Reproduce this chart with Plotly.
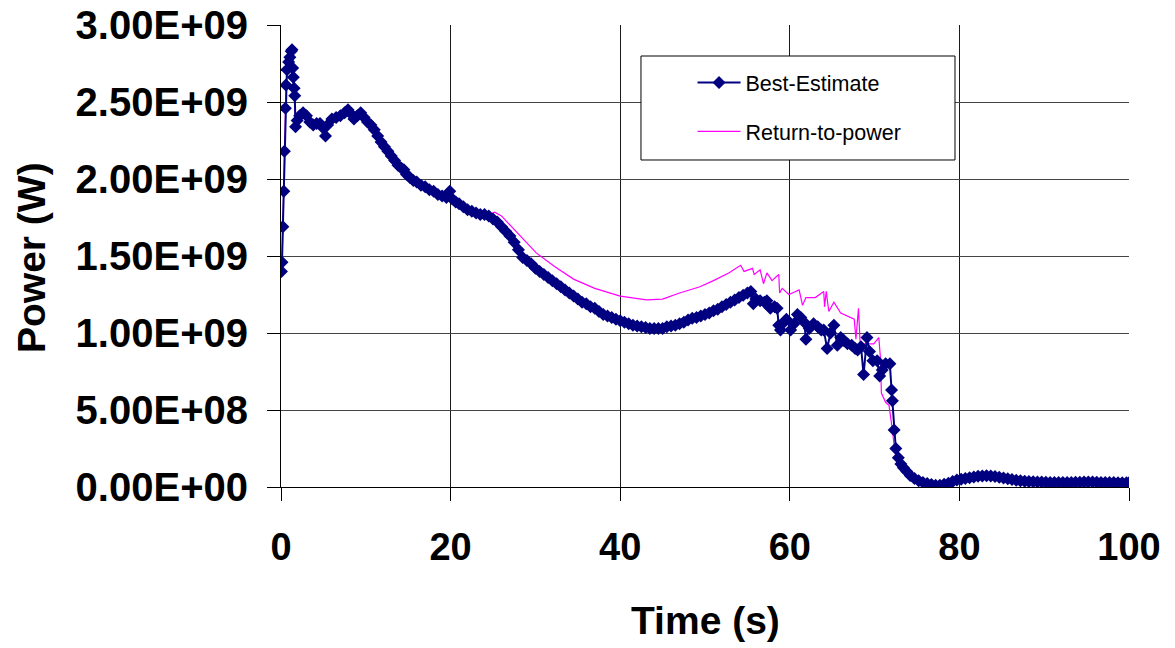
import plotly.graph_objects as go

# ---------------- data ----------------
# Best-Estimate: time (s) and power (GW)
be_time = [0.05, 0.12, 0.22, 0.33, 0.40, 0.52, 0.58, 0.70, 0.90, 1.05, 1.20, 1.30, 1.38, 1.45,
           1.55, 1.62, 1.72, 1.90, 2.20, 2.60, 3.00, 3.40, 3.80, 4.20, 4.60, 5.00, 5.25, 5.50,
           6.00, 6.50, 7.00, 7.50, 7.90, 8.30, 8.60, 9.00, 9.40, 9.80, 10.2, 10.6, 11.0, 11.4,
           11.8, 12.2, 12.6, 13.0, 13.4, 13.8, 14.2, 14.5, 14.8, 15.2, 15.6, 16.0, 16.5, 17.0,
           17.5, 18.0, 18.5, 19.0, 19.5, 19.9, 20.2, 20.6, 21.0, 21.5, 22.0, 22.5, 23.0, 23.5,
           24.0, 24.5, 25.0, 25.5, 26.0, 26.5, 27.0, 27.5, 28.0, 28.5, 29.0, 29.5, 30.0, 30.5,
           31.0, 31.5, 32.0, 32.5, 33.0, 33.5, 34.0, 34.5, 35.0, 35.5, 36.0, 36.5, 37.0, 37.5,
           38.0, 38.5, 39.0, 39.5, 40.0, 40.5, 41.0, 41.5, 42.0, 42.5, 43.0, 43.5, 44.0, 44.5,
           45.0, 45.5, 46.0, 46.5, 47.0, 47.5, 48.0, 48.5, 49.0, 49.5, 50.0, 50.5, 51.0, 51.5,
           52.0, 52.5, 53.0, 53.5, 54.0, 54.5, 55.0, 55.4, 55.7, 56.0, 56.5, 57.0, 57.3, 57.7,
           58.2, 58.5, 58.7, 58.9, 59.3, 59.6, 60.1, 60.5, 60.9, 61.3, 61.7, 61.9, 62.3, 62.8,
           63.3, 63.7, 64.0, 64.4, 64.8, 65.2, 65.6, 66.0, 66.4, 66.8, 67.3, 67.7, 68.0, 68.4,
           68.7, 69.1, 69.4, 69.8, 70.3, 70.6, 70.9, 71.3, 71.8, 72.0, 72.1, 72.3, 72.5, 72.8,
           73.1, 73.4, 73.8, 74.2, 74.7, 75.2, 75.7, 76.2, 76.7, 77.2, 77.7, 78.2, 78.7, 79.2,
           79.7, 80.2, 80.7, 81.2, 81.7, 82.2, 82.7, 83.2, 83.7, 84.2, 84.7, 85.2, 85.7, 86.2,
           86.7, 87.2, 87.7, 88.2, 88.7, 89.2, 89.7, 90.2, 90.7, 91.2, 91.7, 92.2, 92.7, 93.2,
           93.7, 94.2, 94.7, 95.2, 95.7, 96.2, 96.7, 97.2, 97.7, 98.2, 98.7, 99.2, 99.7, 100.0]
be_power_gw = [1.40, 1.46, 1.69, 1.92, 2.18, 2.46, 2.61, 2.71, 2.76, 2.79, 2.83, 2.84, 2.72, 2.66,
               2.59, 2.54, 2.34, 2.38, 2.41, 2.43, 2.41, 2.37, 2.35, 2.36, 2.36, 2.33, 2.28, 2.35,
               2.39, 2.40, 2.41, 2.43, 2.45, 2.42, 2.39, 2.41, 2.43, 2.40, 2.37, 2.35, 2.32, 2.28,
               2.24, 2.21, 2.18, 2.15, 2.12, 2.09, 2.07, 2.06, 2.03, 2.01, 1.99, 1.98, 1.96, 1.95,
               1.93, 1.92, 1.90, 1.89, 1.88, 1.92, 1.87, 1.85, 1.84, 1.82, 1.80, 1.79, 1.78, 1.77,
               1.77, 1.76, 1.74, 1.72, 1.69, 1.66, 1.63, 1.59, 1.54, 1.49, 1.47, 1.45, 1.42, 1.40,
               1.38, 1.36, 1.34, 1.32, 1.30, 1.28, 1.26, 1.24, 1.22, 1.20, 1.19, 1.17, 1.16, 1.14,
               1.12, 1.11, 1.10, 1.09, 1.08, 1.07, 1.06, 1.05, 1.045, 1.04, 1.035, 1.03, 1.03, 1.03,
               1.03, 1.04, 1.045, 1.05, 1.06, 1.07, 1.085, 1.095, 1.10, 1.11, 1.12, 1.13, 1.145, 1.155,
               1.17, 1.185, 1.20, 1.215, 1.23, 1.245, 1.26, 1.27, 1.19, 1.22, 1.21, 1.20, 1.21, 1.16,
               1.17, 1.16, 1.05, 1.02, 1.07, 1.09, 1.02, 1.06, 1.12, 1.10, 1.07, 0.96, 1.03, 1.06,
               1.04, 1.02, 1.02, 0.90, 1.00, 1.05, 0.92, 0.97, 0.95, 0.93, 0.92, 0.90, 0.89, 0.91,
               0.73, 0.97, 0.88, 0.82, 0.82, 0.72, 0.76, 0.80, 0.80, 0.63, 0.56, 0.37, 0.25, 0.19,
               0.15, 0.125, 0.10, 0.075, 0.055, 0.04, 0.03, 0.022, 0.016, 0.012, 0.012, 0.018, 0.025, 0.035,
               0.045, 0.05, 0.055, 0.06, 0.065, 0.07, 0.072, 0.073, 0.072, 0.068, 0.063, 0.058, 0.053, 0.048,
               0.044, 0.040, 0.037, 0.035, 0.034, 0.033, 0.032, 0.031, 0.030, 0.030, 0.030, 0.030, 0.030, 0.030,
               0.031, 0.031, 0.032, 0.032, 0.032, 0.031, 0.030, 0.030, 0.029, 0.029, 0.028, 0.028, 0.028, 0.028]

# Return-to-power: time (s) and power (GW)
rtp_time = [0.05, 0.12, 0.22, 0.33, 0.40, 0.52, 0.60, 0.80, 1.00, 1.25, 1.40, 1.55, 1.70, 2.20,
            3.00, 4.00, 5.25, 6.00, 7.90, 8.60, 9.40, 11.0, 13.0, 15.2, 17.0, 19.0, 19.9, 21.0,
            23.0, 24.6, 25.2, 26.0, 27.4, 28.7, 30.1, 32.3, 34.5, 37.0, 40.0, 43.1, 45.0, 47.0,
            49.4, 51.0, 52.8, 54.2, 54.6, 55.6, 55.8, 56.5, 56.9, 57.3, 57.9, 58.7, 58.8, 59.1,
            59.9, 60.3, 61.1, 61.5, 61.9, 63.0, 64.0, 64.1, 64.3, 64.6, 65.2, 66.0, 66.8, 67.6,
            67.8, 68.1, 68.3, 69.9, 70.5, 70.7, 70.8, 71.3, 71.7, 71.9, 72.1, 72.4, 72.8, 73.5,
            74.5, 76.0, 78.0, 80.0, 83.0, 86.0, 90.0, 95.0, 100.0]
rtp_power_gw = [1.40, 1.46, 1.69, 1.92, 2.18, 2.46, 2.62, 2.74, 2.79, 2.84, 2.66, 2.55, 2.35, 2.41,
                2.40, 2.35, 2.29, 2.39, 2.45, 2.39, 2.43, 2.32, 2.15, 2.01, 1.95, 1.89, 1.92, 1.84,
                1.78, 1.77, 1.785, 1.76, 1.68, 1.60, 1.52, 1.43, 1.35, 1.29, 1.24, 1.215, 1.22, 1.26,
                1.30, 1.34, 1.39, 1.44, 1.40, 1.42, 1.38, 1.41, 1.32, 1.39, 1.34, 1.38, 1.26, 1.29,
                1.25, 1.26, 1.28, 1.18, 1.23, 1.23, 1.27, 1.17, 1.27, 1.14, 1.20, 1.13, 1.11, 1.09,
                0.96, 1.16, 0.93, 0.93, 0.97, 0.83, 0.61, 0.55, 0.53, 0.46, 0.37, 0.22, 0.17, 0.12,
                0.06, 0.025, 0.014, 0.05, 0.073, 0.05, 0.033, 0.030, 0.028]

y_tick_values_gw = [0.0, 0.5, 1.0, 1.5, 2.0, 2.5, 3.0]
y_tick_labels = ["0.00E+00", "5.00E+08", "1.00E+09", "1.50E+09", "2.00E+09", "2.50E+09", "3.00E+09"]
x_tick_values = [0, 20, 40, 60, 80, 100]

GW = 1e9
NAVY = "#000080"
MAGENTA = "#FF00FF"
FONT = "Liberation Sans, Arial, sans-serif"

fig = go.Figure()
fig.add_trace(go.Scatter(
    x=rtp_time, y=[v * GW for v in rtp_power_gw], name="Return-to-power",
    mode="lines", line=dict(color=MAGENTA, width=1.2), legendgroup="b", legendrank=2))
fig.add_trace(go.Scatter(
    x=be_time, y=[v * GW for v in be_power_gw], name="Best-Estimate",
    mode="lines+markers", line=dict(color=NAVY, width=2),
    marker=dict(symbol="diamond", size=10, color=NAVY, line=dict(width=0)),
    legendgroup="a", legendrank=1))

fig.update_layout(
    width=1175, height=648, autosize=False,
    margin=dict(l=281, r=46, t=25, b=161),
    paper_bgcolor="white", plot_bgcolor="white",
    showlegend=True,
    legend=dict(x=0.4853, y=0.92, xanchor="left", yanchor="top",
                bgcolor="rgba(0,0,0,0)", borderwidth=0,
                font=dict(family=FONT, size=21.5, color="black"),
                itemwidth=43, tracegroupgap=18, traceorder="grouped"),
    shapes=[dict(type="rect", xref="paper", yref="paper",
                 x0=0.4245, x1=0.7948, y0=0.7078, y1=0.9329,
                 line=dict(color="black", width=1), fillcolor="white", layer="above")],
    annotations=[
        dict(text="Time (s)", xref="paper", yref="paper", x=0.5, y=-0.288,
             xanchor="center", yanchor="middle", showarrow=False,
             font=dict(family=FONT, size=39, color="black", weight="bold")),
        dict(text="Power (W)", xref="paper", yref="paper", x=-0.2936, y=0.4957,
             xanchor="center", yanchor="middle", showarrow=False, textangle=-90,
             font=dict(family=FONT, size=39, color="black", weight="bold")),
    ],
)

fig.update_xaxes(
    range=[0, 100], tickvals=x_tick_values, automargin=False, ticklabeloverflow="allow",
    showgrid=True, gridcolor="#1a1a1a", gridwidth=1,
    showline=True, linecolor="black", linewidth=1,
    ticks="outside", ticklen=13, tickcolor="black", tickwidth=1,
    zeroline=False, ticklabelstandoff=13,
    tickfont=dict(family=FONT, size=38, color="black", weight="bold"))
fig.update_yaxes(
    range=[0, 3 * GW], tickvals=[v * GW for v in y_tick_values_gw], ticktext=y_tick_labels,
    automargin=False, ticklabeloverflow="allow",
    showgrid=True, gridcolor="#444444", gridwidth=1,
    showline=True, linecolor="black", linewidth=1,
    ticks="outside", ticklen=13, tickcolor="black", tickwidth=1,
    zeroline=False, ticklabelstandoff=11,
    tickfont=dict(family=FONT, size=40, color="black", weight="bold"))

# remove the browser's default 8px body margin so the figure sits at the page origin
fig.write_html("out.html", config={"displayModeBar": False},
               post_script="document.body.style.margin='0';")
